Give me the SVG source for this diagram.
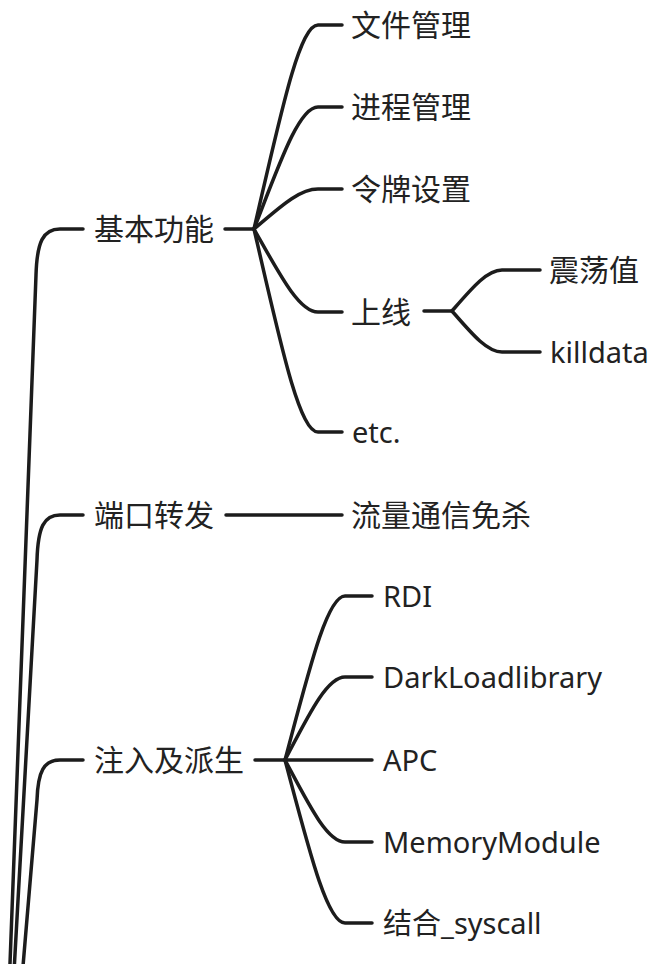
<svg xmlns="http://www.w3.org/2000/svg" width="651" height="964" viewBox="0 0 651 964">
<style>
.c{fill:none;stroke:#1c1c1c;stroke-width:3.5;stroke-linecap:round}
.t{font-family:"Noto Sans","Noto Sans CJK SC",sans-serif;font-size:29px;fill:#222}
.z{font-size:30px}
</style>
<rect width="651" height="964" fill="#fff"/>
<g id="connectors">
<path class="c" d="M9,990 L36,275 C37,242 43,229 60,229 L83,229"/>
<path class="c" d="M13,990 L37,560 C38,527 44,515 60,515 L83,515"/>
<path class="c" d="M21,990 L37,800 C38,771 44,760 60,760 L83,760"/>
<path class="c" d="M225,229 L254,229"/>
<path class="c" d="M254,229 C280,117 299,25 318,25 L342,25"/>
<path class="c" d="M254,229 C280,162 299,107 318,107 L342,107"/>
<path class="c" d="M254,229 C280,207 299,189 318,189 L342,189"/>
<path class="c" d="M254,229 C280,275 299,312 318,312 L342,312"/>
<path class="c" d="M254,229 C280,341 299,432 318,432 L342,432"/>
<path class="c" d="M424,311 L452,311"/>
<path class="c" d="M452,311 C472,288 487,270 502,270 L540,270"/>
<path class="c" d="M452,311 C472,334 487,352 502,352 L540,352"/>
<path class="c" d="M226,515 L342,515"/>
<path class="c" d="M255,760 L285,760"/>
<path class="c" d="M285,760 C309,670 327,596 345,596 L372,596"/>
<path class="c" d="M285,760 C309,714 327,677 345,677 L372,677"/>
<path class="c" d="M285,760 L372,760"/>
<path class="c" d="M285,760 C309,805 327,842 345,842 L372,842"/>
<path class="c" d="M285,760 C309,850 327,923 345,923 L372,923"/>
</g>
<g id="n-jbgn"><text class="t z" x="94" y="240">基本功能</text></g>
<g id="n-wjgl"><text class="t z" x="351" y="36">文件管理</text></g>
<g id="n-jcgl"><text class="t z" x="351" y="118">进程管理</text></g>
<g id="n-lpsz"><text class="t z" x="351" y="200">令牌设置</text></g>
<g id="n-sx"><text class="t z" x="351" y="323">上线</text></g>
<g id="n-zdz"><text class="t z" x="549" y="281">震荡值</text></g>
<g id="n-killdata"><text class="t" x="550" y="363">killdata</text></g>
<g id="n-etc"><text class="t" x="352" y="443">etc.</text></g>
<g id="n-dkzf"><text class="t z" x="94" y="526">端口转发</text></g>
<g id="n-llmc"><text class="t z" x="351" y="526">流量通信免杀</text></g>
<g id="n-zr"><text class="t z" x="94" y="771">注入及派生</text></g>
<g id="n-rdi"><text class="t" x="383" y="607">RDI</text></g>
<g id="n-dark"><text class="t" x="383" y="688">DarkLoadlibrary</text></g>
<g id="n-apc"><text class="t" x="383" y="771">APC</text></g>
<g id="n-mm"><text class="t" x="383" y="853">MemoryModule</text></g>
<g id="n-sys"><text class="t" x="383" y="934">结合_syscall</text></g>
</svg>
